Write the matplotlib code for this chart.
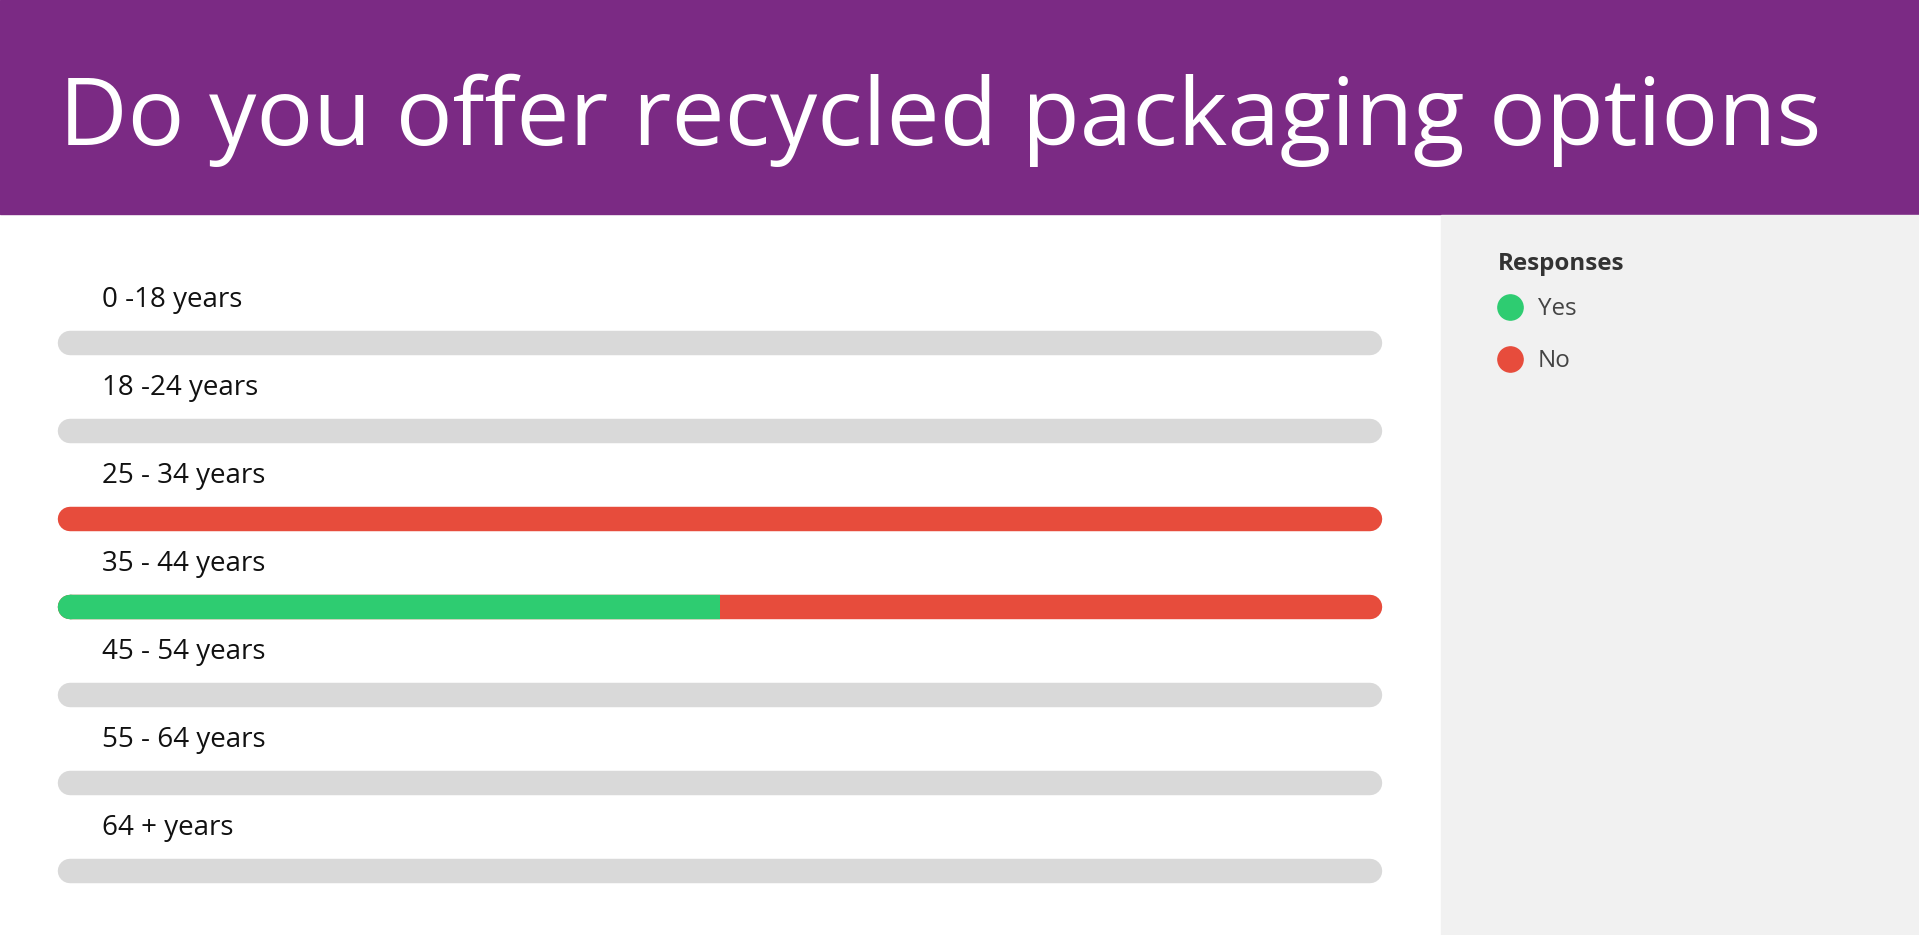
import matplotlib
matplotlib.use("Agg")
import matplotlib.pyplot as plt
from matplotlib.patches import Rectangle

title = "Do you offer recycled packaging options"
age_groups = ["0 -18 years", "18 -24 years", "25 - 34 years", "35 - 44 years",
              "45 - 54 years", "55 - 64 years", "64 + years"]
yes_share = [0, 0, 0, 0.5, 0, 0, 0]
no_share = [0, 0, 1.0, 0.5, 0, 0, 0]
legend_labels = ["Yes", "No"]

GREEN = "#2ecc71"
RED = "#e74c3c"
GREY = "#d9d9d9"
PURPLE = "#7b2a84"
FONT = ["Open Sans", "DejaVu Sans"]

W, H = 1919, 935
fig = plt.figure(figsize=(W / 100, H / 100), dpi=100)

# background in pixel coordinates
bg = fig.add_axes([0, 0, 1, 1])
bg.set_xlim(0, W)
bg.set_ylim(H, 0)
bg.axis("off")
bg.add_patch(Rectangle((0, 0), W, 214, color=PURPLE, zorder=0))
bg.add_patch(Rectangle((1441, 215), W - 1441, H - 215, color="#f1f1f1", zorder=0))
bg.text(59, 120, title, color="white", fontsize=68, family=FONT, va="center", ha="left")

# legend
bg.text(1498, 264, "Responses", fontsize=17.4, fontweight="bold", color="#333333",
        family=FONT, va="center")
for k, (lab, col) in enumerate(zip(legend_labels, [GREEN, RED])):
    y = 307 + 52 * k
    bg.scatter([1510], [y], s=330, color=col, zorder=3)
    bg.text(1538, y + 2, lab, fontsize=17.4, color="#444444", family=FONT, va="center")

# bars: value 0 -> pixel 69.5, value 1 -> pixel 1370
ax = fig.add_axes([0, 0, 1, 1])
ax.patch.set_alpha(0)
a, b = 69.5, 1300.5
ax.set_xlim(-a / b, (W - a) / b)
ax.set_ylim((H - 343) / 88, -343 / 88)
ax.axis("off")
lw = 17.6
for i, lab in enumerate(age_groups):
    ax.text(32 / b, i - 43 / 88, lab, fontsize=20, color="#111111", family=FONT, va="center")
    total = yes_share[i] + no_share[i]
    if total == 0:
        ax.plot([0, 1], [i, i], color=GREY, lw=lw, solid_capstyle="round")
        continue
    last = RED if no_share[i] > 0 else GREEN
    ax.plot([0, 1], [i, i], color=last, lw=lw, solid_capstyle="round")
    if yes_share[i] > 0 and no_share[i] > 0:
        ax.plot([0, yes_share[i]], [i, i], color=GREEN, lw=lw, solid_capstyle="butt")
        ax.plot([0, 0.001], [i, i], color=GREEN, lw=lw, solid_capstyle="round")

fig.savefig("out.png", dpi=100)
